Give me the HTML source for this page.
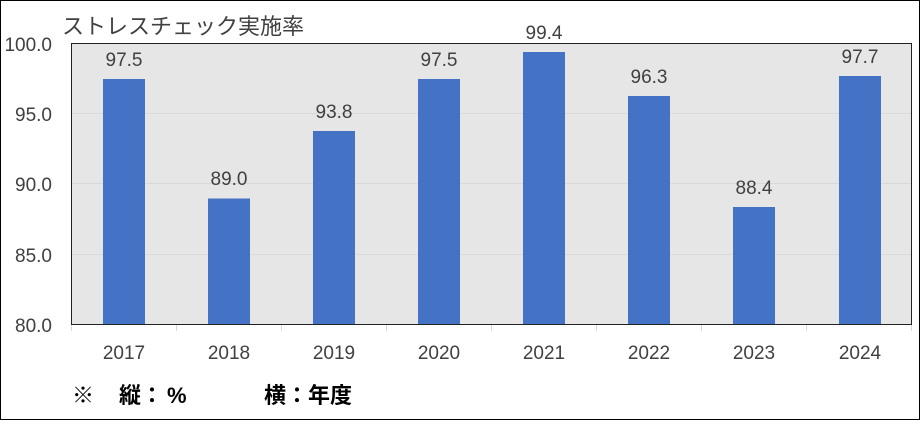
<!DOCTYPE html>
<html><head><meta charset="utf-8"><style>
body{margin:0;background:#fff}
</style></head><body>
<svg width="920" height="420" xmlns="http://www.w3.org/2000/svg" font-family="'Liberation Sans','Noto Sans CJK JP',sans-serif">
<rect x="0.5" y="0.5" width="919" height="419" fill="#fff" stroke="#000"/>
<rect x="71.5" y="43.5" width="840" height="281" fill="#e7e6e6"/>
<g stroke="#d9d9d9" stroke-width="1">
<line x1="72" x2="911" y1="113.5" y2="113.5"/>
<line x1="72" x2="911" y1="183.5" y2="183.5"/>
<line x1="72" x2="911" y1="254.5" y2="254.5"/>
</g>
<g fill="#4472c4">
<rect x="103" y="79" width="42" height="245"/>
<rect x="208" y="198.5" width="42" height="125.5"/>
<rect x="313" y="131" width="42" height="193"/>
<rect x="418" y="79" width="42" height="245"/>
<rect x="523" y="52" width="42" height="272"/>
<rect x="628" y="96" width="42" height="228"/>
<rect x="733" y="207" width="42" height="117"/>
<rect x="839" y="76" width="42" height="248"/>
</g>
<path d="M71.5 43.5H911.5V324.5H71.5Z" fill="none" stroke="#222" stroke-width="1"/>
<g stroke="#d9d9d9">
<line x1="71.5" x2="71.5" y1="325" y2="331"/><line x1="176.5" x2="176.5" y1="325" y2="331"/><line x1="281.5" x2="281.5" y1="325" y2="331"/><line x1="386.5" x2="386.5" y1="325" y2="331"/><line x1="491.5" x2="491.5" y1="325" y2="331"/><line x1="596.5" x2="596.5" y1="325" y2="331"/><line x1="701.5" x2="701.5" y1="325" y2="331"/><line x1="806.5" x2="806.5" y1="325" y2="331"/><line x1="911.5" x2="911.5" y1="325" y2="331"/>
</g>
<g font-size="19" fill="#404040" text-anchor="end">
<text x="52" y="51">100.0</text><text x="52" y="121">95.0</text><text x="52" y="191">90.0</text><text x="52" y="262">85.0</text><text x="52" y="332">80.0</text>
</g>
<g font-size="19" fill="#404040" text-anchor="middle">
<text x="124" y="359">2017</text><text x="229" y="359">2018</text><text x="334" y="359">2019</text><text x="439" y="359">2020</text><text x="544" y="359">2021</text><text x="649" y="359">2022</text><text x="754" y="359">2023</text><text x="860" y="359">2024</text>
</g>
<g font-size="19" fill="#404040" text-anchor="middle">
<text x="124" y="66">97.5</text><text x="229" y="185">89.0</text><text x="334" y="118">93.8</text><text x="439" y="66">97.5</text><text x="544" y="39">99.4</text><text x="649" y="83">96.3</text><text x="754" y="194">88.4</text><text x="860" y="63">97.7</text>
</g>
<text x="62" y="34" font-size="22" fill="#404040">ストレスチェック実施率</text>
<g font-size="22" font-weight="bold" fill="#000">
<text x="72" y="403">※</text>
<text x="119" y="403">縦：</text>
<text x="167" y="403">%</text>
<text x="264" y="403">横：年度</text>
</g>
</svg>
</body></html>
